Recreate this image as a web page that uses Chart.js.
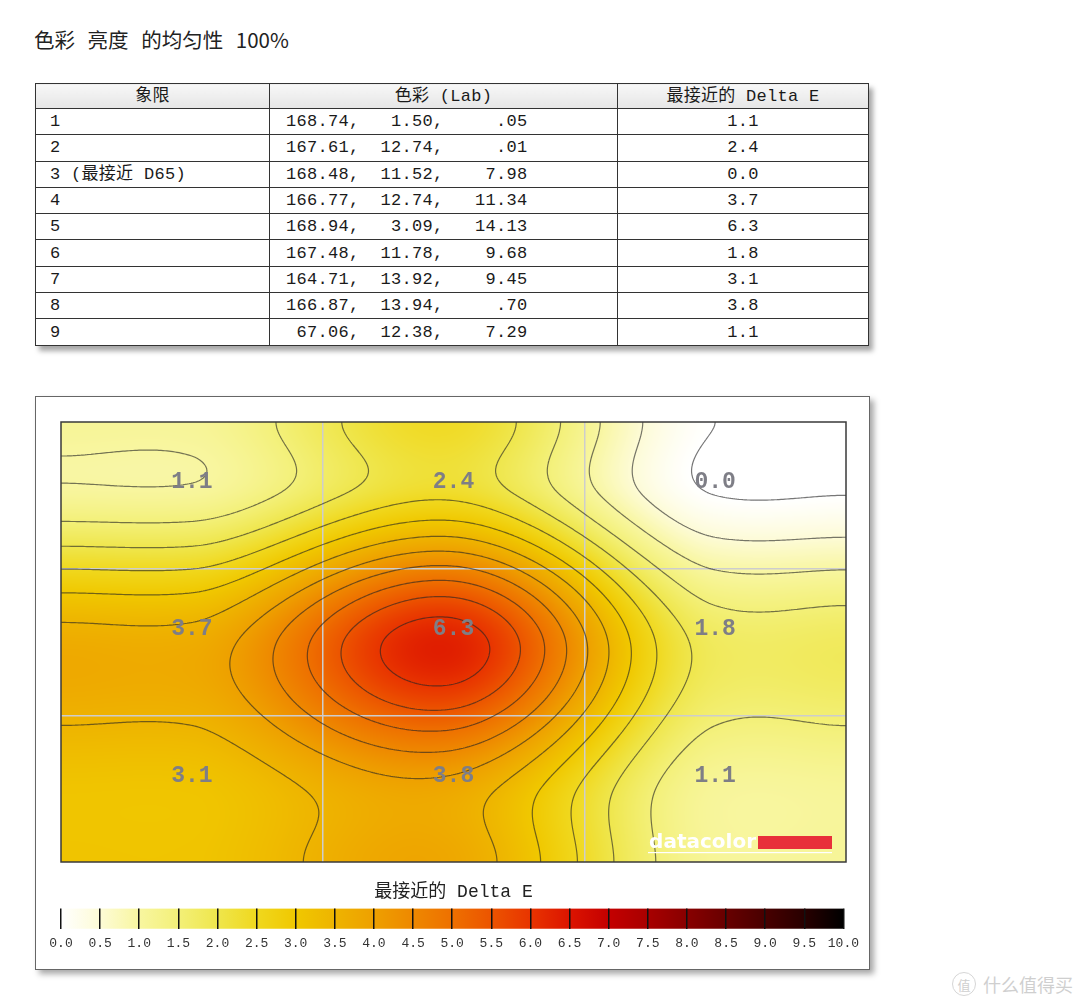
<!DOCTYPE html>
<html><head><meta charset="utf-8">
<script src="https://cdn.jsdelivr.net/npm/chart.js@4/dist/chart.umd.min.js"></script>
<style>
html,body{margin:0;padding:0;background:#fff;}
body{width:1080px;height:1005px;position:relative;overflow:hidden;}
#title{position:absolute;left:34px;top:24px;font:20.5px "Noto Sans CJK SC";color:#222;word-spacing:8px;white-space:pre;}
#tbl{position:absolute;left:35px;top:83px;width:833px;border-collapse:collapse;table-layout:fixed;
  font:17px "Liberation Mono","Noto Sans CJK SC";letter-spacing:0.3px;color:#1a1a1a;box-shadow:4px 5px 5px rgba(0,0,0,0.35);}
#tbl td,#tbl th{border:1px solid #333;padding:0;white-space:pre;font-weight:normal;line-height:1;}
#tbl th{height:24px;background:linear-gradient(#f7f7f7,#e6e6e6);text-align:center;}
#tbl td{height:25.3px;}
#tbl td.c1{padding-left:14px;}
#tbl td.c2{padding-left:16px;}
#tbl td.c3{text-align:center;}
#frame{position:absolute;left:35px;top:396px;width:835px;height:574px;box-sizing:border-box;border:1px solid #666;
  box-shadow:4px 4px 6px rgba(0,0,0,0.35);background:#fff;}
#heat{position:absolute;left:51px;top:412px;}
#cbar{position:absolute;left:41px;top:870px;}
#wm{position:absolute;left:952px;top:971px;color:#cfcfcf;font:18px "Noto Sans CJK SC";display:flex;align-items:center;gap:7px;}
#wm .ic{width:22px;height:22px;border:1.5px solid #d6d6d6;border-radius:50%;font-size:13px;display:flex;align-items:center;justify-content:center;}
</style></head>
<body>
<div id="title">色彩 亮度 的均匀性 100%</div>
<table id="tbl"><colgroup><col style="width:234px"><col style="width:348px"><col style="width:251px"></colgroup>
<thead><tr><th>象限</th><th>色彩 (Lab)</th><th>最接近的 Delta E</th></tr></thead><tbody id="tb"></tbody></table>
<div id="frame"></div>
<canvas id="heat" width="805" height="460"></canvas>
<canvas id="cbar" width="825" height="94"></canvas>
<div id="wm"><span class="ic">值</span><span>什么值得买</span></div>
<script>
// ---- data ----
const quadrants = ['1','2','3 (最接近 D65)','4','5','6','7','8','9'];
const labL = [168.74,167.61,168.48,166.77,168.94,167.48,164.71,166.87,67.06];
const labA = [1.50,12.74,11.52,12.74,3.09,11.78,13.92,13.94,12.38];
const labB = [0.05,0.01,7.98,11.34,14.13,9.68,9.45,0.70,7.29];
const deltaE = [1.1,2.4,0.0,3.7,6.3,1.8,3.1,3.8,1.1];
const gridCols = 3, gridRows = 3;
const scaleMin = 0, scaleMax = 10, scaleStep = 0.5;
const colorbarTitle = '最接近的 Delta E';

// ---- table ----
const fmt = v => { let s = v.toFixed(2); if (v < 1) s = s.slice(1); return s; };
const tb = document.getElementById('tb');
quadrants.forEach((q,i)=>{
  const tr = document.createElement('tr');
  const lab = fmt(labL[i]).padStart(6) + ',' + fmt(labA[i]).padStart(7) + ',' + fmt(labB[i]).padStart(8);
  tr.innerHTML = '<td class="c1"></td><td class="c2"></td><td class="c3"></td>';
  tr.children[0].textContent = q; tr.children[1].textContent = lab; tr.children[2].textContent = deltaE[i].toFixed(1);
  tb.appendChild(tr);
});

// ---- colour map (style) ----
const cmStops = [
 [0.0,[255,255,255]],[0.5,[253,251,214]],[1.0,[248,246,160]],[1.5,[243,240,120]],[2.0,[239,230,76]],
 [2.5,[240,216,30]],[3.0,[240,200,0]],[3.5,[238,180,0]],[4.0,[238,160,0]],[4.5,[238,136,0]],
 [5.0,[238,112,0]],[5.5,[236,84,0]],[6.0,[232,52,0]],[6.5,[220,20,0]],[7.0,[196,0,0]],
 [7.5,[168,0,0]],[8.0,[136,0,0]],[8.5,[104,0,0]],[9.0,[72,0,0]],[9.5,[40,0,0]],[10.0,[0,0,0]]];
function cmap(v){
  if (v <= cmStops[0][0]) return cmStops[0][1];
  for (let k=1;k<cmStops.length;k++){
    if (v <= cmStops[k][0]){
      const a=cmStops[k-1], b=cmStops[k], t=(v-a[0])/(b[0]-a[0]);
      return [0,1,2].map(n=>Math.round(a[1][n]+(b[1][n]-a[1][n])*t));
    }
  }
  return cmStops[cmStops.length-1][1];
}
const rgb = c => 'rgb('+c.join(',')+')';

// ---- smooth surface through the measured values: Hermite spline, nodes at cell centres, edge knots ----
function interp1(vals, t, endFactor){
  const n=vals.length, xs=[0], ps=[vals[0]];
  for(let k=0;k<n;k++){ xs.push(k+0.5); ps.push(vals[k]); }
  xs.push(n); ps.push(vals[n-1]);
  const last=ps.length-1;
  const m=ps.map((p,i)=>{
    if(i===0||i===last) return 0;
    const d=(ps[i+1]-ps[i-1])/(xs[i+1]-xs[i-1]);
    return (i===1||i===last-1) ? d*endFactor : d;
  });
  let i=0; while(i<xs.length-2 && t>xs[i+1]) i++;
  const h=xs[i+1]-xs[i], u=Math.max(0,Math.min(1,(t-xs[i])/h));
  const u2=u*u, u3=u2*u;
  return (2*u3-3*u2+1)*ps[i]+(u3-2*u2+u)*h*m[i]+(-2*u3+3*u2)*ps[i+1]+(u3-u2)*h*m[i+1];
}
function rowsAt(x){ const r=[]; for(let j=0;j<gridRows;j++) r.push(interp1(deltaE.slice(j*gridCols,(j+1)*gridCols),x,0.35)); return r; }
const colAt = (rows,y) => interp1(rows,y,1);

const fieldPlugin = {
  id:'field',
  beforeDraw(chart){
    const {ctx, chartArea:a, scales:{x,y}} = chart;
    const w=Math.round(a.right-a.left), h=Math.round(a.bottom-a.top);
    const off=document.createElement('canvas'); off.width=w; off.height=h;
    const o=off.getContext('2d'); const img=o.createImageData(w,h);
    const cols=[]; for(let px=0;px<w;px++) cols.push(rowsAt(x.getValueForPixel(a.left+px+0.5)));
    for(let py=0;py<h;py++){ const yv=y.getValueForPixel(a.top+py+0.5);
      for(let px=0;px<w;px++){
        const c=cmap(colAt(cols[px],yv)); const k=(py*w+px)*4;
        img.data[k]=c[0]; img.data[k+1]=c[1]; img.data[k+2]=c[2]; img.data[k+3]=255; } }
    o.putImageData(img,0,0); ctx.drawImage(off,a.left,a.top);
  },
  beforeDatasetsDraw(chart){
    const {ctx, chartArea:a, scales:{x,y}} = chart;
    const step=2, w=a.right-a.left, h=a.bottom-a.top;
    const nx=Math.ceil(w/step)+1, ny=Math.ceil(h/step)+1;
    const gx=i=>Math.min(a.left+i*step,a.right), gy=j=>Math.min(a.top+j*step,a.bottom);
    const cols=[]; for(let i=0;i<nx;i++) cols.push(rowsAt(x.getValueForPixel(gx(i))));
    const vals=new Float64Array(nx*ny);
    for(let j=0;j<ny;j++){ const yv=y.getValueForPixel(gy(j)); for(let i=0;i<nx;i++) vals[j*nx+i]=colAt(cols[i],yv); }
    ctx.save(); ctx.beginPath(); ctx.rect(a.left,a.top,w,h); ctx.clip();
    ctx.beginPath();
    for(let L=scaleMin; L<scaleMax; L+=scaleStep){
      for(let j=0;j<ny-1;j++) for(let i=0;i<nx-1;i++){
        const v0=vals[j*nx+i], v1=vals[j*nx+i+1], v2=vals[(j+1)*nx+i+1], v3=vals[(j+1)*nx+i];
        const idx=(v0>=L?8:0)|(v1>=L?4:0)|(v2>=L?2:0)|(v3>=L?1:0);
        if(idx===0||idx===15) continue;
        const x0=gx(i),x1=gx(i+1),y0=gy(j),y1=gy(j+1);
        const T=()=>[x0+(L-v0)/(v1-v0)*(x1-x0),y0], R=()=>[x1,y0+(L-v1)/(v2-v1)*(y1-y0)],
              B=()=>[x0+(L-v3)/(v2-v3)*(x1-x0),y1], Lf=()=>[x0,y0+(L-v0)/(v3-v0)*(y1-y0)];
        const segs={1:[[Lf,B]],2:[[B,R]],3:[[Lf,R]],4:[[T,R]],5:[[Lf,T],[B,R]],6:[[T,B]],7:[[Lf,T]],
          8:[[Lf,T]],9:[[T,B]],10:[[T,R],[Lf,B]],11:[[T,R]],12:[[Lf,R]],13:[[B,R]],14:[[Lf,B]]}[idx];
        segs.forEach(s=>{const p=s[0](),q=s[1](); ctx.moveTo(p[0],p[1]); ctx.lineTo(q[0],q[1]);});
      }
    }
    ctx.strokeStyle='rgba(35,35,35,0.62)'; ctx.lineWidth=1.2; ctx.stroke();
    ctx.restore();
  },
  afterDatasetsDraw(chart){
    const {ctx, chartArea:a} = chart;
    const meta=chart.getDatasetMeta(0);
    ctx.save();
    ctx.font='bold 23px "Liberation Mono"'; ctx.fillStyle='#7e7e86'; ctx.textAlign='center'; ctx.textBaseline='alphabetic';
    meta.data.forEach((el,i)=>{ ctx.fillText(deltaE[i].toFixed(1), el.x, el.y-7); });
    // logo
    ctx.fillStyle='#e8303a'; ctx.fillRect(a.right-88,a.bottom-26,74,13);
    ctx.font='bold 20px "DejaVu Sans"'; ctx.fillStyle='#ffffff'; ctx.textAlign='right';
    ctx.fillText('datacolor', a.right-90, a.bottom-14);
    ctx.fillRect(a.right-198,a.bottom-10,184,1.2);
    // plot border
    ctx.strokeStyle='#3a3a3a'; ctx.lineWidth=1.5;
    ctx.strokeRect(a.left,a.top,a.right-a.left,a.bottom-a.top);
    ctx.restore();
  }
};

const gridColor = c => (c.tick && c.tick.value > 0 && c.tick.value < 3) ? '#cdcdcd' : 'rgba(0,0,0,0)';
new Chart(document.getElementById('heat'), {
  type:'scatter',
  data:{datasets:[{data:deltaE.map((v,i)=>({x:i%gridCols+0.5,y:Math.floor(i/gridCols)+0.5})),pointRadius:0,pointHoverRadius:0}]},
  options:{responsive:false,animation:false,devicePixelRatio:1,
    layout:{padding:10},
    plugins:{legend:{display:false},tooltip:{enabled:false}},
    scales:{
      x:{type:'linear',min:0,max:gridCols,ticks:{display:false,stepSize:1},grid:{color:gridColor,lineWidth:1.5,drawTicks:false},border:{display:false}},
      y:{type:'linear',min:0,max:gridRows,reverse:true,ticks:{display:false,stepSize:1},grid:{color:gridColor,lineWidth:1.5,drawTicks:false},border:{display:false}}
    }},
  plugins:[fieldPlugin]
});

// ---- colour bar ----
new Chart(document.getElementById('cbar'), {
  type:'bar',
  data:{labels:[colorbarTitle],datasets:[{data:[[scaleMin,scaleMax]],borderWidth:0,barPercentage:1,categoryPercentage:1,
    backgroundColor:(c)=>{const ch=c.chart; const xs=ch.scales.x; if(!xs||!ch.chartArea) return '#fff';
      const g=ch.ctx.createLinearGradient(xs.getPixelForValue(scaleMin),0,xs.getPixelForValue(scaleMax),0);
      cmStops.forEach(s=>g.addColorStop((s[0]-scaleMin)/(scaleMax-scaleMin),rgb(s[1]))); return g;}}]},
  options:{indexAxis:'y',responsive:false,animation:false,devicePixelRatio:1,
    layout:{padding:{left:20,right:20,top:0,bottom:5.6}},
    plugins:{legend:{display:false},tooltip:{enabled:false},
      title:{display:true,text:colorbarTitle,color:'#222',font:{family:'"Liberation Mono","Noto Sans CJK SC"',size:18,weight:'normal'},padding:{top:11,bottom:6}}},
    scales:{
      x:{type:'linear',min:scaleMin,max:scaleMax,z:1,
        ticks:{stepSize:scaleStep,autoSkip:false,maxRotation:0,padding:7,color:'#333',font:{family:'"Liberation Mono"',size:13},callback:v=>Number(v).toFixed(1)},
        grid:{color:'#111',lineWidth:1.5,drawTicks:false,z:1},border:{display:false}},
      y:{display:false}
    }}
});
</script>
</body></html>
